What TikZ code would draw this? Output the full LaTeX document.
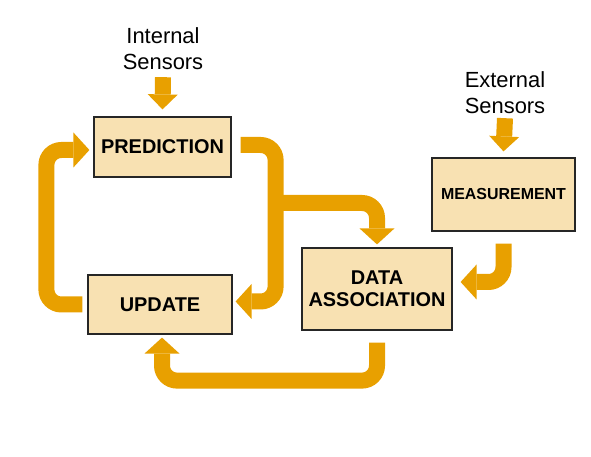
\documentclass[tikz,border=0pt]{standalone}
\usepackage{fontspec}
\setmainfont{Liberation Sans}
\usepackage{xcolor}
\usetikzlibrary{positioning, arrows.meta}

\definecolor{flowor}{RGB}{232,160,0}
\definecolor{boxtan}{RGB}{248,225,178}

\tikzset{
  stagebox/.style={draw=black!85, line width=1.2bp, fill=boxtan, align=center, inner sep=0pt,
    font=\bfseries\fontsize{20}{22.5}\selectfont},
  sensortxt/.style={align=center, inner sep=0pt, font=\fontsize{22}{26}\selectfont},
  flow/.style={draw=flowor, line width=16bp, rounded corners=15bp,
    -{Triangle[width=35bp,length=16bp,line width=0pt]}},
  sensorflow/.style={flow, -{Triangle[width=30bp,length=15bp,line width=0pt]}}
}

\begin{document}
\begin{tikzpicture}[x=1bp, y=1bp]
  \useasboundingbox (0,0) rectangle (591,457);

  \node[stagebox, minimum width=137bp, minimum height=60bp] (pred) at (162.5,310) {PREDICTION};
  \node[stagebox, minimum width=144bp, minimum height=59bp] (upd) at (160,152.5) {UPDATE};
  \node[stagebox, minimum width=150bp, minimum height=82bp] (data) at (377,168) {DATA\\ASSOCIATION};
  \node[stagebox, minimum width=143bp, minimum height=73bp,
        font=\bfseries\fontsize{16}{18}\selectfont] (meas) at (503.5,262.5) {MEASUREMENT};

  \node[sensortxt] (intsens) at (163,408) {Internal\\Sensors};
  \node[sensortxt] (extsens) at (505,364) {External\\Sensors};

  % sensors in
  \draw[sensorflow] ([yshift=-7bp]intsens.south) -- ([yshift=7bp]pred.north);
  \draw[sensorflow] ([yshift=-4bp]extsens.south) -- ([yshift=6bp]meas.north);

  % loop round the two stages
  \draw[flow] ([xshift=-5bp]upd.west) -- ++(-36,0) |- ([xshift=-4bp,yshift=-3bp]pred.west);
  \draw[flow] ([xshift=9bp,yshift=2bp]pred.east) -- ++(35,0) |- ([xshift=3bp,yshift=3bp]upd.east);
  \coordinate (split) at (275,254);
  \draw[flow] (split) -| ([yshift=3bp]data.north);

  \draw[flow] ([yshift=-12bp]meas.south) |- ([xshift=8bp,yshift=7bp]data.east);
  \draw[flow] ([yshift=-12bp]data.south) -- ++(0,-38) -| ([xshift=2bp,yshift=-3bp]upd.south);
\end{tikzpicture}
\end{document}
